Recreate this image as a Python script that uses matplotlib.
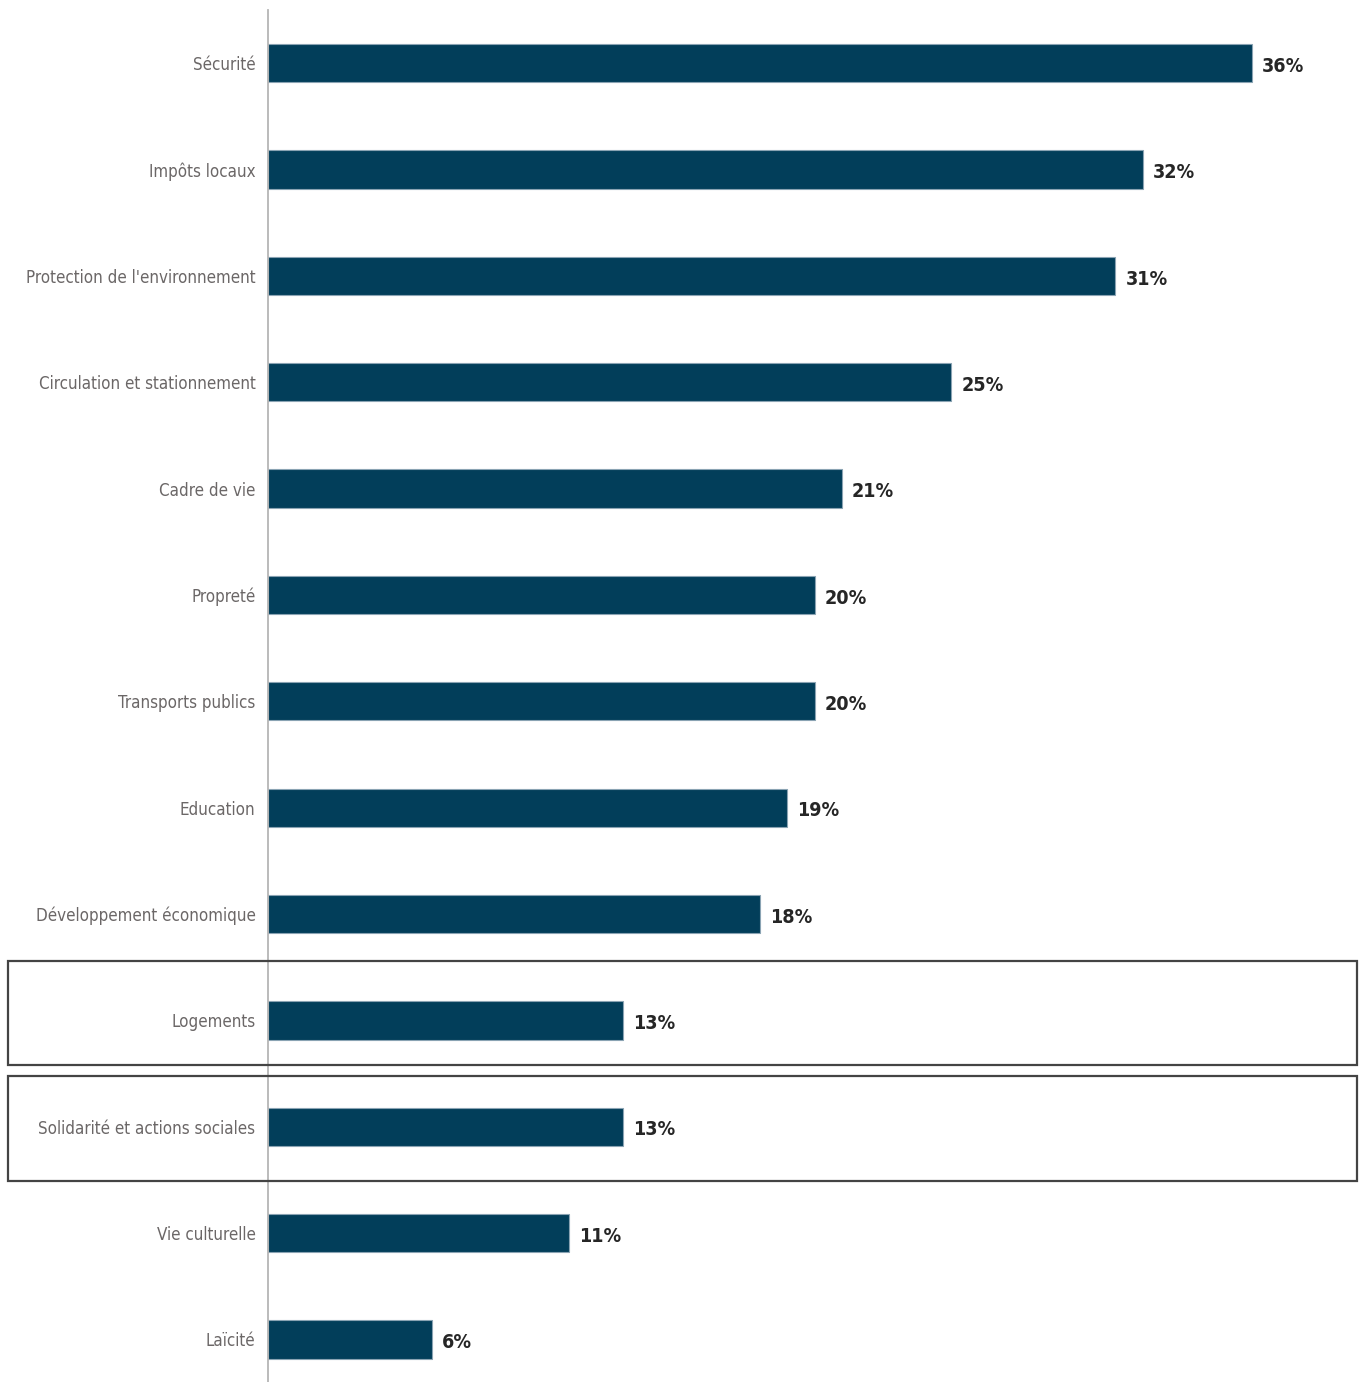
import matplotlib
matplotlib.use("Agg")
import matplotlib.pyplot as plt
from matplotlib.patches import Rectangle
from matplotlib import transforms

# Données
categories = ["Sécurité", "Impôts locaux", "Protection de l'environnement",
              "Circulation et stationnement", "Cadre de vie", "Propreté",
              "Transports publics", "Education", "Développement économique",
              "Logements", "Solidarité et actions sociales", "Vie culturelle",
              "Laïcité"]
valeurs = [36, 32, 31, 25, 21, 20, 20, 19, 18, 13, 13, 11, 6]
encadres = ["Logements", "Solidarité et actions sociales"]

COULEUR_BARRE = "#023e5a"
POLICE = ["Liberation Sans Narrow", "DejaVu Sans"]

fig = plt.figure(figsize=(13.65, 13.82), dpi=100)
W, H = 1365, 1382
ax = fig.add_axes([268 / W, 0, 1 - 268 / W, 1 - 10 / H])

y = list(range(len(categories)))
ax.barh(y, valeurs, height=0.36, color=COULEUR_BARRE, edgecolor="#8aa3b3", linewidth=0.8)

ax.set_xlim(0, (W - 268) / 27.33)
ax.set_ylim(len(categories) - 0.6, -0.5)

ax.set_yticks(y)
ax.set_yticklabels(categories, family=POLICE, fontstretch="condensed",
                   fontsize=17, color="#6b6767")
ax.tick_params(axis="y", length=0, pad=9)
ax.set_xticks([])

# réduire la taille des libellés pour que le plus long tienne dans ~228 px
fig.canvas.draw()
r = fig.canvas.get_renderer()
largeur = max(t.get_window_extent(r).width for t in ax.get_yticklabels())
taille = min(17, 17 * 228 / largeur)
for t in ax.get_yticklabels():
    t.set_fontsize(taille)

# étiquettes de valeurs
for i, v in enumerate(valeurs):
    ax.text(v + 0.37, i + 0.03, f"{v}%", va="center", ha="left", fontsize=taille + 2,
            fontweight="bold", fontstretch="condensed", color="#262626", family=POLICE)

for s in ["top", "right", "bottom"]:
    ax.spines[s].set_visible(False)
ax.spines["left"].set_color("#b5b5b5")
ax.spines["left"].set_linewidth(1.3)

# encadrés autour de certaines lignes (décalage haut, hauteur)
cadres = [(-0.555, 0.97), (-0.48, 0.99)]
trans = transforms.blended_transform_factory(fig.transFigure, ax.transData)
for nom, (dy, hauteur) in zip(encadres, cadres):
    i = categories.index(nom)
    rect = Rectangle((8 / W, i + dy), 1349 / W, hauteur, transform=trans,
                     fill=False, edgecolor="#444444", linewidth=1.6, clip_on=False)
    fig.add_artist(rect)

fig.savefig("out.png", dpi=100)
